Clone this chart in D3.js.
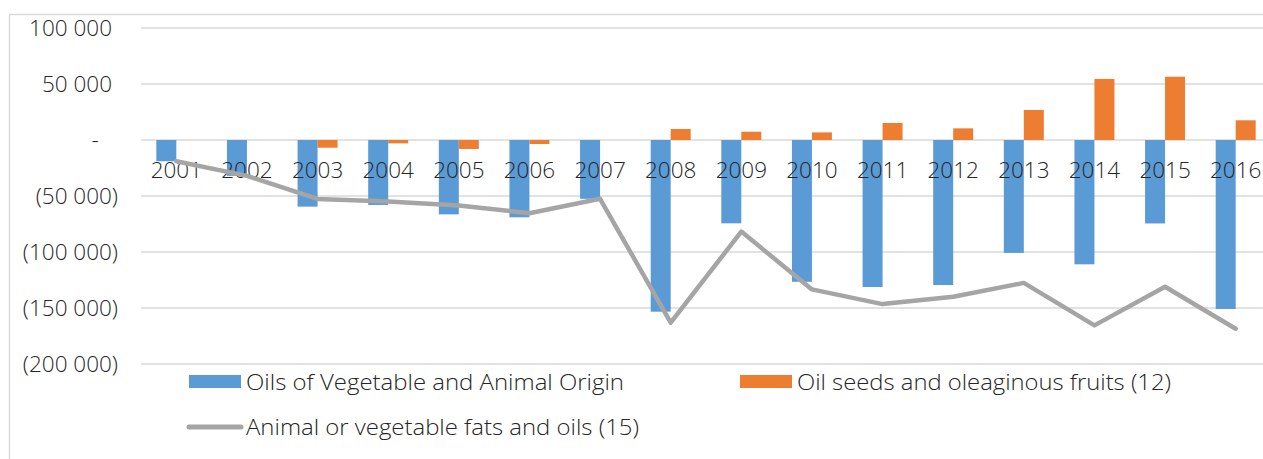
<!DOCTYPE html>
<html>
<head>
<meta charset="utf-8">
<script src="https://cdn.jsdelivr.net/npm/d3@7"></script>
<style>
  html, body { margin: 0; padding: 0; background: #fff; }
  svg { display: block; }
  text { font-family: "Open Sans", "Noto Sans", sans-serif; font-weight: 300; fill: #262626; }
</style>
</head>
<body>
<svg id="chart" width="1263" height="459"></svg>
<script>
// Trade balance by year (tonnes)
const years = ["2001","2002","2003","2004","2005","2006","2007","2008",
               "2009","2010","2011","2012","2013","2014","2015","2016"];
const oilsVegAnimal = [-19000,-32000,-59500,-58000,-66400,-69000,-52500,-153300,
                       -74400,-126600,-131300,-129500,-100800,-111000,-74500,-150900];
const oilSeeds = [0,0,-6900,-3000,-8000,-3600,0,9800,
                  7400,6800,15200,10400,26800,54500,56500,17600];
const fatsOils = [-19000,-32000,-52600,-55000,-58400,-65400,-52500,-163100,
                  -81800,-133400,-146500,-139900,-127600,-165500,-131000,-168500];
const yTicks = [100000, 50000, 0, -50000, -100000, -150000, -200000];
const seriesNames = ["Oils of Vegetable and Animal Origin",
                     "Oil seeds and oleaginous fruits (12)",
                     "Animal or vegetable fats and oils (15)"];
const colors = ["#5b9bd5", "#ed7d31", "#a5a5a5"];

const svg = d3.select("#chart");
const plot = { left: 141, right: 1271, top: 28, bottom: 364 };

// chart area frame
svg.append("rect")
  .attr("x", 9.5).attr("y", 14.5).attr("width", 1300).attr("height", 500)
  .attr("fill", "none").attr("stroke", "#d9d9d9").attr("stroke-width", 1.5);

const x = d3.scaleBand().domain(years).range([plot.left, plot.right]).paddingInner(0.434).paddingOuter(0.217);
const y = d3.scaleLinear().domain([-200000, 100000]).range([plot.bottom, plot.top]);

// gridlines
svg.append("g").selectAll("line").data(yTicks).join("line")
  .attr("x1", plot.left).attr("x2", plot.right)
  .attr("y1", d => y(d)).attr("y2", d => y(d))
  .attr("stroke", "#d9d9d9").attr("stroke-width", 1.5);

// y-axis labels in accounting style
const fmt = v => d3.format(",")(Math.abs(v)).replace(/,/g, " ");
const yl = svg.append("g");
yTicks.forEach(v => {
  const t = yl.append("text").attr("y", y(v)).attr("dy", "0.36em").style("font-size", "22.5px");
  if (v > 0) t.attr("x", 112).attr("text-anchor", "end").text(fmt(v));
  else if (v < 0) t.attr("x", 118).attr("text-anchor", "end").text("(" + fmt(v) + ")");
  else t.attr("x", 95).attr("text-anchor", "middle").text("-");
});

const bw = x.bandwidth() / 2;
// blue bars
svg.append("g").selectAll("rect").data(years).join("rect")
  .attr("x", d => x(d))
  .attr("width", bw)
  .attr("y", (d, i) => Math.min(y(0), y(oilsVegAnimal[i])))
  .attr("height", (d, i) => Math.abs(y(oilsVegAnimal[i]) - y(0)))
  .attr("fill", colors[0]);
// orange bars
svg.append("g").selectAll("rect").data(years).join("rect")
  .attr("x", d => x(d) + bw)
  .attr("width", bw)
  .attr("y", (d, i) => Math.min(y(0), y(oilSeeds[i])))
  .attr("height", (d, i) => Math.abs(y(oilSeeds[i]) - y(0)))
  .attr("fill", colors[1]);

// category labels sit just below the zero line
svg.append("g").selectAll("text").data(years).join("text")
  .attr("x", d => x(d) + x.bandwidth() / 2)
  .attr("y", 178)
  .attr("text-anchor", "middle")
  .style("font-size", "22.5px")
  .text(d => d);

// line series
const line = d3.line()
  .x((d, i) => x(years[i]) + x.bandwidth() / 2)
  .y(d => y(d));
svg.append("path").datum(fatsOils)
  .attr("d", line)
  .attr("fill", "none").attr("stroke", colors[2]).attr("stroke-width", 4.5)
  .attr("stroke-linejoin", "round").attr("stroke-linecap", "round");

// legend
const lg = svg.append("g").style("font-size", "22.5px");
lg.append("rect").attr("x", 189).attr("y", 375).attr("width", 52).attr("height", 13).attr("fill", colors[0]);
lg.append("text").attr("x", 246).attr("y", 390).attr("textLength", 378).attr("lengthAdjust", "spacingAndGlyphs").text(seriesNames[0]);
lg.append("rect").attr("x", 740).attr("y", 375).attr("width", 52).attr("height", 13).attr("fill", colors[1]);
lg.append("text").attr("x", 797).attr("y", 390).attr("textLength", 374).attr("lengthAdjust", "spacingAndGlyphs").text(seriesNames[1]);
lg.append("line").attr("x1", 189).attr("x2", 241).attr("y1", 427).attr("y2", 427)
  .attr("stroke", colors[2]).attr("stroke-width", 5).attr("stroke-linecap", "round");
lg.append("text").attr("x", 246).attr("y", 435).attr("textLength", 393).attr("lengthAdjust", "spacingAndGlyphs").text(seriesNames[2]);
</script>
</body>
</html>
